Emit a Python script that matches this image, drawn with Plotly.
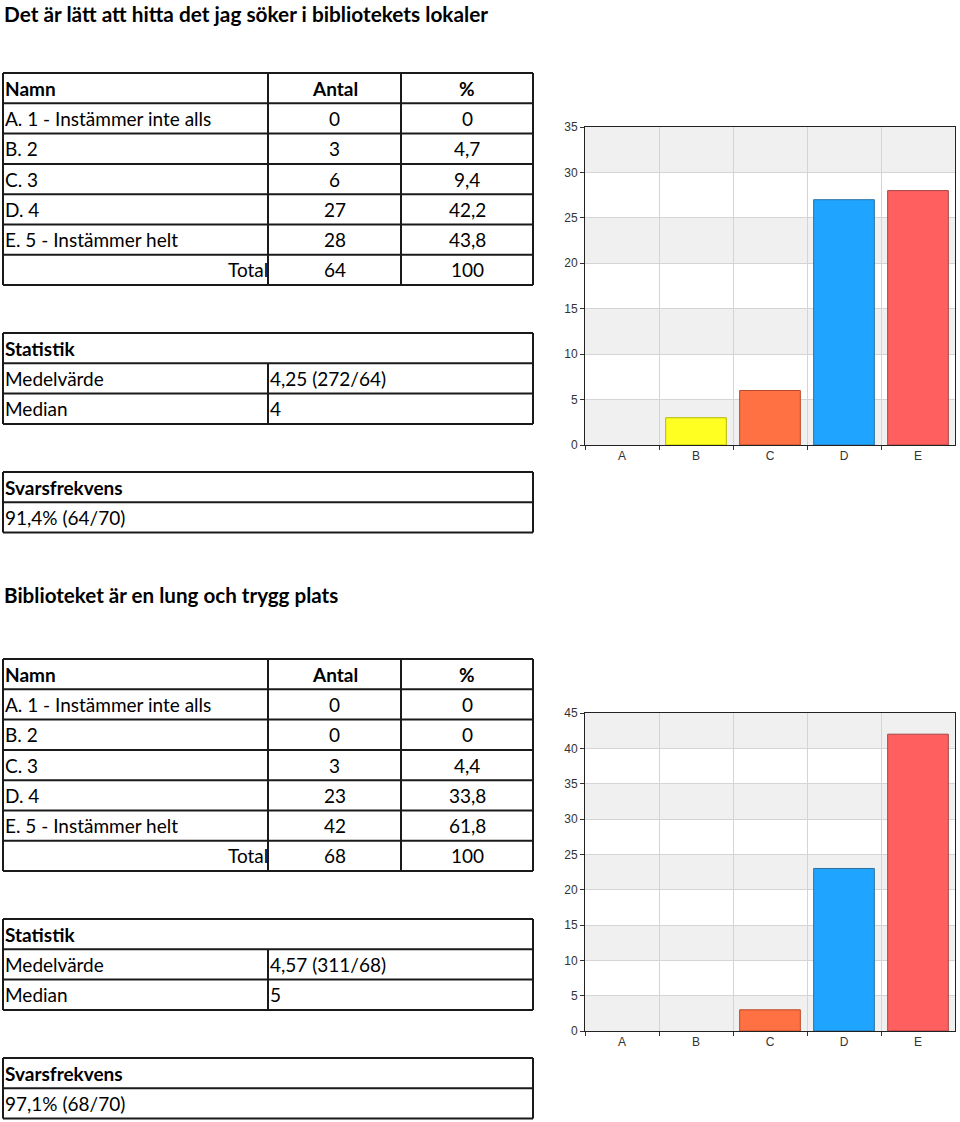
import plotly.graph_objects as go

W, H = 960, 1122
FONT = "Lato"

# ---------------- data ----------------
title1 = "Det är lätt att hitta det jag söker i bibliotekets lokaler"
title2 = "Biblioteket är en lung och trygg plats"

head_cols = ["Namn", "Antal", "%"]
names = ["A. 1 - Instämmer inte alls", "B. 2", "C. 3", "D. 4", "E. 5 - Instämmer helt"]
cats = ["A", "B", "C", "D", "E"]

counts1 = [0, 3, 6, 27, 28]
pct1 = ["0", "4,7", "9,4", "42,2", "43,8"]
total1 = ["64", "100"]
mean1 = "4,25 (272/64)"
median1 = "4"
resp1 = "91,4% (64/70)"

counts2 = [0, 0, 3, 23, 42]
pct2 = ["0", "0", "4,4", "33,8", "61,8"]
total2 = ["68", "100"]
mean2 = "4,57 (311/68)"
median2 = "5"
resp2 = "97,1% (68/70)"

bar_colors = ["#c0c0c0", "#ffff22", "#ff7043", "#1fa5ff", "#ff5f5f"]
bar_lines = ["#909090", "#b8b800", "#b84a2a", "#2a6fa0", "#a84545"]

# ---------------- layout helpers ----------------
def py(px):
    return 1 - px / H

def px_x(px):
    return px / W

fig = go.Figure()
shapes = []
annotations = []
layout_axes = {}

ROW = 30.3
TBL_LEFT, TBL_RIGHT = 3, 533
PAD = 3  # px of breathing room so border lines are not clipped
CELL_SIZE = 19
LINE = dict(color="#1a1a1a", width=2)

axis_counter = [2]  # x/y 1 and 2 are used by the bar charts


def add_block(top_px, col_widths, rows):
    """rows: list of rows; each row is a list of (text, align, bold).
    A row with a single cell spans the full width."""
    n = axis_counter[0] = axis_counter[0] + 1
    width = sum(col_widths)
    nrows = len(rows)
    height_px = nrows * ROW
    edges = [0]
    for w in col_widths:
        edges.append(edges[-1] + w)
    xa, ya = f"xaxis{n}", f"yaxis{n}"
    xr, yr = f"x{n}", f"y{n}"
    pad_r = PAD / ROW
    layout_axes[xa] = dict(domain=[px_x(TBL_LEFT - PAD), px_x(TBL_RIGHT + PAD)],
                           range=[-PAD, width + PAD], visible=False,
                           fixedrange=True, anchor=yr)
    layout_axes[ya] = dict(domain=[max(0, py(top_px + height_px + PAD)), py(top_px - PAD)],
                           range=[nrows + pad_r, -pad_r], visible=False,
                           fixedrange=True, anchor=xr)
    # horizontal borders
    for r in range(nrows + 1):
        shapes.append(dict(type="line", xref=xr, yref=yr, x0=0, x1=width, y0=r, y1=r,
                           line=LINE, layer="above"))
    # outer vertical borders
    for xv in (0, width):
        shapes.append(dict(type="line", xref=xr, yref=yr, x0=xv, x1=xv, y0=0, y1=nrows,
                           line=LINE, layer="above"))
    for r, row in enumerate(rows):
        if len(row) == 1:
            spans = [(0, width)]
        else:
            spans = [(edges[i], edges[i + 1]) for i in range(len(row))]
            for xv in edges[1:-1]:
                shapes.append(dict(type="line", xref=xr, yref=yr, x0=xv, x1=xv,
                                   y0=r, y1=r + 1, line=LINE, layer="above"))
        for (text, align, bold), (x0, x1) in zip(row, spans):
            if align == "left":
                xpos, anchor = x0 + 1, "left"
            elif align == "right":
                xpos, anchor = x1 + 1, "right"
            else:
                xpos, anchor = (x0 + x1) / 2, "center"
            annotations.append(dict(
                text=f"<b>{text}</b>" if bold else text,
                x=xpos, y=r + 0.5, xref=xr, yref=yr, xanchor=anchor, yanchor="middle",
                showarrow=False, borderpad=0,
                font=dict(family=FONT, size=CELL_SIZE, color="black")))


def freq_rows(counts, pct, total):
    rows = [[(head_cols[0], "left", True), (head_cols[1], "center", True),
             (head_cols[2], "center", True)]]
    for nm, c, p in zip(names, counts, pct):
        rows.append([(nm, "left", False), (str(c), "center", False), (p, "center", False)])
    rows.append([("Total", "right", False), (total[0], "center", False),
                 (total[1], "center", False)])
    return rows


def stat_rows(mean, median):
    return [[("Statistik", "left", True)],
            [("Medelvärde", "left", False), (mean, "left", False)],
            [("Median", "left", False), (median, "left", False)]]


def resp_rows(resp):
    return [[("Svarsfrekvens", "left", True)], [(resp, "left", False)]]


FREQ_COLS = [265, 133, 132]
STAT_COLS = [265, 265]
RESP_COLS = [530]

add_block(73, FREQ_COLS, freq_rows(counts1, pct1, total1))
add_block(333, STAT_COLS, stat_rows(mean1, median1))
add_block(472, RESP_COLS, resp_rows(resp1))
add_block(659, FREQ_COLS, freq_rows(counts2, pct2, total2))
add_block(919, STAT_COLS, stat_rows(mean2, median2))
add_block(1058, RESP_COLS, resp_rows(resp2))

# ---------------- bar charts ----------------
def add_bars(counts, xa, ya):
    fig.add_trace(go.Bar(
        x=cats, y=counts, width=0.82,
        marker=dict(color=bar_colors,
                    line=dict(color=bar_lines, width=[1 if v > 0 else 0 for v in counts])),
        xaxis=xa, yaxis=ya, showlegend=False, hoverinfo="x+y",
    ))

add_bars(counts1, "x", "y")
add_bars(counts2, "x2", "y2")

tickfont = dict(family="Liberation Sans", size=12, color="#333333")
xcommon = dict(domain=[px_x(585), px_x(955)], tickson="boundaries", showgrid=True,
               gridcolor="#d4d4d4", gridwidth=1, ticks="outside", ticklen=4,
               tickcolor="#333333", showline=True, linecolor="#222222", linewidth=1,
               mirror=True, tickfont=tickfont, fixedrange=True, zeroline=False,
               categoryorder="array", categoryarray=cats)
ycommon = dict(dtick=5, showgrid=True, gridcolor="#d4d4d4", gridwidth=1,
               ticks="outside", ticklen=4, tickcolor="#333333", showline=True,
               linecolor="#222222", linewidth=1, mirror=True, tickfont=tickfont,
               zeroline=False, fixedrange=True)

ymax1, ymax2 = 35, 45
layout_axes.update(
    xaxis=dict(**xcommon, anchor="y"),
    yaxis=dict(**ycommon, domain=[py(445), py(127)], range=[0, ymax1], anchor="x"),
    xaxis2=dict(**xcommon, anchor="y2"),
    yaxis2=dict(**ycommon, domain=[py(1031), py(713)], range=[0, ymax2], anchor="x2"),
)

# alternating grey bands behind the grid
for xref, yref, ymax in (("x domain", "y", ymax1), ("x2 domain", "y2", ymax2)):
    v = 0
    while v < ymax:
        if (v // 5) % 2 == 0:
            shapes.append(dict(type="rect", xref=xref, yref=yref, x0=0, x1=1,
                               y0=v, y1=v + 5, fillcolor="#f0f0f0",
                               line=dict(width=0), layer="below"))
        v += 5

annotations += [
    dict(text="<b>" + title1 + "</b>", x=px_x(3), y=1, xref="paper", yref="paper",
         xanchor="left", yanchor="top", showarrow=False, borderpad=0,
         font=dict(family=FONT, size=20.8, color="black")),
    dict(text="<b>" + title2 + "</b>", x=px_x(3), y=py(595), xref="paper", yref="paper",
         xanchor="left", yanchor="middle", showarrow=False, borderpad=0,
         font=dict(family=FONT, size=20.6, color="black")),
]

fig.update_layout(
    width=W, height=H, margin=dict(l=0, r=0, t=0, b=0, pad=0, autoexpand=False),
    paper_bgcolor="white", plot_bgcolor="white",
    shapes=shapes, annotations=annotations, showlegend=False,
    **layout_axes,
)

fig.write_html("out.html")
